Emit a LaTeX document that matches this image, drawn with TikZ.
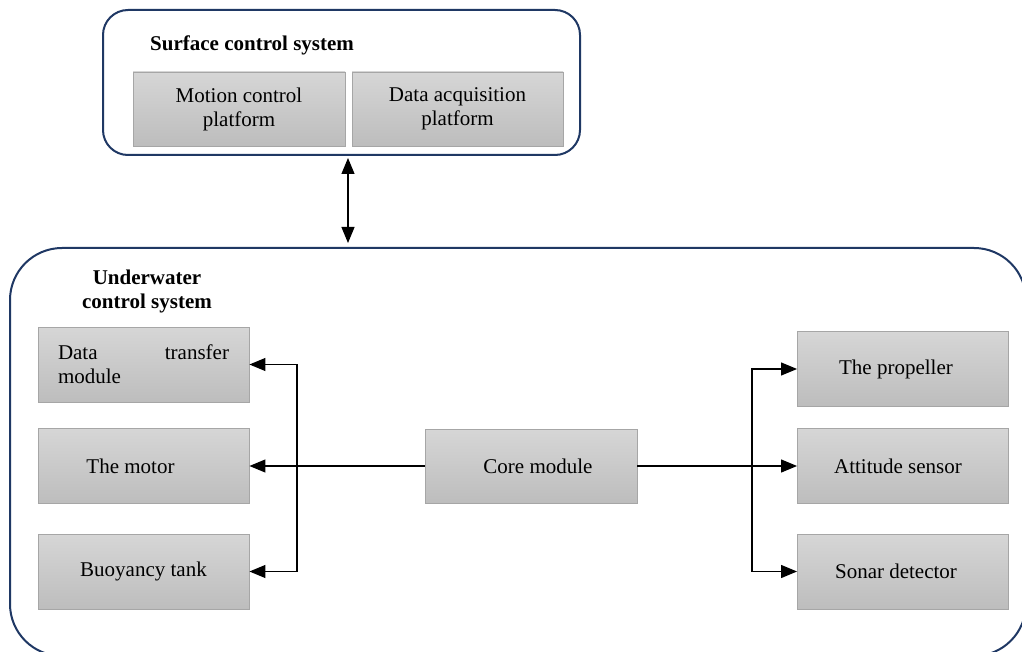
\documentclass[tikz,border=0pt]{standalone}
\usepackage{fontspec}
\setmainfont{Liberation Serif}
\usetikzlibrary{arrows.meta}
\definecolor{navy}{HTML}{1F3864}
\definecolor{boxtop}{HTML}{D6D6D6}
\definecolor{boxbot}{HTML}{BDBDBD}
\definecolor{boxline}{HTML}{A6A6A6}
\tikzset{
  module/.style={draw=boxline, line width=0.9pt, top color=boxtop, bottom color=boxbot,
    minimum width=211pt, minimum height=75pt, inner sep=0pt, align=center,
    font=\fontsize{21}{24}\selectfont},
  container/.style={draw=navy, line width=2pt, fill=none, inner sep=0pt},
  title/.style={font=\fontsize{21}{24}\selectfont\bfseries, align=center, inner sep=0pt},
  arr/.style={line width=1.2pt, -{Triangle[length=16pt,width=13pt]}},
  dbl/.style={line width=1.2pt, {Triangle[length=16pt,width=13pt]}-{Triangle[length=16pt,width=13pt]}}
}
\begin{document}
\begin{tikzpicture}[x=1pt,y=-1pt]
\useasboundingbox (0,0) rectangle (1022,652);
\clip (0,0) rectangle (1022,652);
\fill[white] (0,0) rectangle (1022,652);
% containers
\node[container, rounded corners=25pt, minimum width=477pt, minimum height=145pt] (surf) at (341.5,82.5) {};
\node[container, rounded corners=52pt, minimum width=1016pt, minimum height=408pt] (under) at (518,452) {};
% titles
\node[title, anchor=west] (stitle) at (150,45) {Surface control system};
\node[title] (utitle) at (147,291) {Underwater\\control system};
% surface modules
\node[module, minimum width=212pt, minimum height=74pt] (motion) at (239,109) {\raisebox{-3pt}{\parbox{212pt}{\centering Motion control\\platform}}};
\node[module, minimum height=74pt] (acq) at (457.5,109) {\raisebox{-3pt}{\parbox{211pt}{\centering Data acquisition\\platform}}};
% left modules
\node[module] (dt) at (143.5,364.5) {\raisebox{-2pt}{\parbox{171pt}{Data\hfill transfer\\module}}};
\node[module] (motor) at (143.5,466) {\hspace*{-26pt}The motor};
\node[module] (buoy) at (143.5,571.5) {Buoyancy tank};
% core
\node[module, minimum width=212pt, minimum height=74pt] (core) at (531,466) {\hspace*{14pt}Core module};
% right modules
\node[module] (prop) at (903,369) {\hspace*{-14pt}The propeller};
\node[module] (att) at (903,466) {\hspace*{-10pt}Attitude sensor};
\node[module] (sonar) at (903,571.5) {\hspace*{-14pt}Sonar detector};
% connectors
\coordinate (va) at (348,158);
\coordinate (vb) at (348,243);
\draw[dbl] (va) -- (vb);
\coordinate (lbus) at (297,466);
\coordinate (rbus) at (752,466);
\draw[arr] (core.west) -- (motor.east);
\draw[arr] (lbus) |- (dt.east);
\draw[arr] (lbus) |- (buoy.east);
\draw[arr] (core.east) -- (att.west);
\draw[arr] (rbus) |- (prop.west);
\draw[arr] (rbus) |- (sonar.west);
\end{tikzpicture}
\end{document}
